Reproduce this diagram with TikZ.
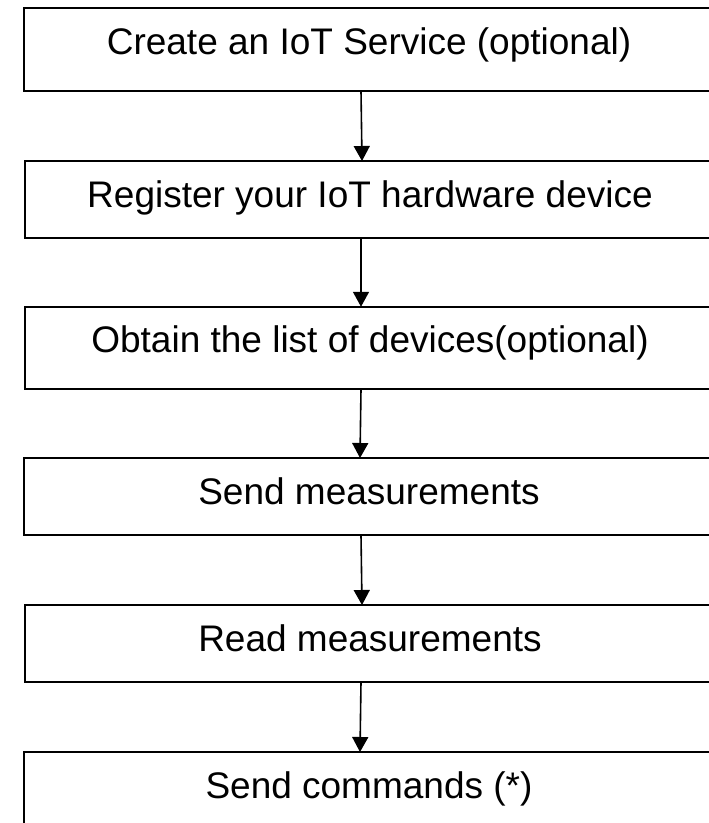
\documentclass[tikz,border=0pt]{standalone}
\usepackage{fontspec}
\setmainfont{Liberation Sans}
\usetikzlibrary{arrows.meta}
\begin{document}
\begin{tikzpicture}[x=1pt,y=-1pt,
  stepbox/.style={draw=black,line width=1.9pt,minimum width=690pt,inner sep=0pt,outer sep=0pt,text height=46pt,text depth=31pt,font=\fontsize{37}{44}\selectfont},
  tallbox/.style={stepbox,text depth=36.5pt},
  flow/.style={line width=1.6pt,-{Triangle[width=16pt,length=15pt]}}]
  \useasboundingbox (0,0) rectangle (709,823);
  \node[tallbox] (create) at (369,49.5) {Create an IoT Service (optional)};
  \node[stepbox] (register) at (370,199.5) {Register your IoT hardware device};
  \node[tallbox] (obtain) at (370,348) {Obtain the list of devices(optional)};
  \node[stepbox] (sendm) at (369,496.5) {Send measurements};
  \node[stepbox] (readm) at (370,643.5) {Read measurements};
  \node[stepbox] (sendc) at (369,790.5) {Send commands (*)};
  \draw[flow] ([xshift=-8pt]create.south) -- ([xshift=-8pt]register.north);
  \draw[flow] ([xshift=-9pt]register.south) -- ([xshift=-9pt]obtain.north);
  \draw[flow] ([xshift=-9pt]obtain.south) -- ([xshift=-9pt]sendm.north);
  \draw[flow] ([xshift=-8pt]sendm.south) -- ([xshift=-8pt]readm.north);
  \draw[flow] ([xshift=-9pt]readm.south) -- ([xshift=-9pt]sendc.north);
\end{tikzpicture}
\end{document}
